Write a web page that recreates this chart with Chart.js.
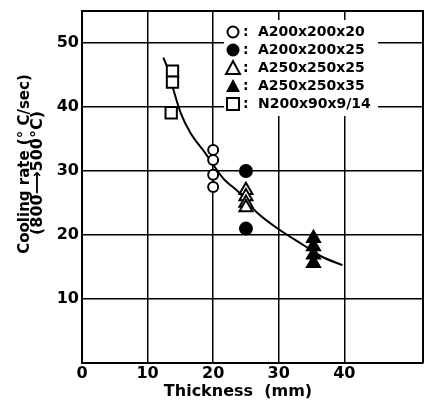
<!DOCTYPE html>
<html>
<head>
<script src="https://cdn.jsdelivr.net/npm/chart.js@4.4.1/dist/chart.umd.min.js"></script>
<style>
  body {margin: 0; background: #fff;}
  #wrap {width: 425px; height: 401px;}
</style>
</head>
<body>
<div id="wrap"><canvas id="cool" width="425" height="401"></canvas></div>
<script>

// values (thickness mm, cooling rate C/s)
var xTicks = [0, 10, 20, 30, 40];
var yTicks = [10, 20, 30, 40, 50];

var a20x = [20, 20, 20, 20];
var a20y = [33.3, 31.7, 29.4, 27.5];
var a25x = [25, 25];
var a25y = [30, 21];
var b25x = [25, 25, 25, 25];
var b25y = [27, 26, 25, 24.3];
var b35x = [35.3, 35.3, 35.3, 35.3];
var b35y = [19.5, 18.2, 16.9, 15.6];
var nx = [13.8, 13.8, 13.6];
var ny = [45.6, 43.9, 39.1];

var curveX = [12.4, 13, 14, 15, 16.5, 18.8, 21.5, 24, 26.6, 30, 33.8, 36.6, 39.7];
var curveY = [47.7, 46.2, 42.5, 39.2, 36, 32.8, 28.9, 26.6, 23.6, 20.9, 18.4, 16.6, 15.3];

var legendLabels = ['A200x200x20', 'A200x200x25', 'A250x250x25', 'A250x250x35', 'N200x90x9/14'];
var legendShapes = ['circle', 'circle', 'triangle', 'triangle', 'rect'];
var legendFilled = [false, true, false, true, false];

function pts(xs, ys) {
  return xs.map(function(x, i) { return {x: x, y: ys[i]}; });
}

function marks(xs, ys, style, filled, r) {
  return {
    type: 'scatter',
    data: pts(xs, ys),
    pointStyle: style,
    pointRadius: r,
    pointHoverRadius: r,
    borderColor: '#000',
    borderWidth: 2,
    backgroundColor: filled ? '#000' : '#fff',
    order: 1
  };
}

var F = '"DejaVu Sans", sans-serif';

// frame, titles and the boxed legend
var extras = {
  id: 'extras',
  afterDatasetsDraw: function(chart) {
    var ctx = chart.ctx, a = chart.chartArea;
    ctx.save();
    ctx.strokeStyle = '#000';
    ctx.lineWidth = 2;
    ctx.beginPath();
    ctx.moveTo(a.left, a.top); ctx.lineTo(a.right, a.top); ctx.lineTo(a.right, a.bottom);
    ctx.stroke();

    // legend
    ctx.fillStyle = '#fff';
    ctx.fillRect(224, 20, 154, 96);
    ctx.fillStyle = '#000';
    ctx.font = 'bold 14px ' + F;
    ctx.textBaseline = 'middle';
    for (var i = 0; i < legendLabels.length; i++) {
      var cy = 32 + i * 18, cx = 233;
      ctx.beginPath();
      if (legendShapes[i] == 'circle') {
        ctx.arc(cx, cy, legendFilled[i] ? 6.5 : 5.5, 0, Math.PI * 2);
      } else if (legendShapes[i] == 'triangle') {
        ctx.moveTo(cx, cy - 7); ctx.lineTo(cx + 7, cy + 6); ctx.lineTo(cx - 7, cy + 6); ctx.closePath();
      } else {
        ctx.rect(cx - 6, cy - 6, 12, 12);
      }
      if (legendFilled[i]) ctx.fill(); else ctx.stroke();
      ctx.fillText(':', 243, cy);
      ctx.fillText(legendLabels[i], 258, cy);
    }

    // axis titles
    ctx.textAlign = 'center';
    ctx.font = 'bold 16px ' + F;
    ctx.fillText('Thickness  (mm)', 238, 392);
    ctx.font = 'bold 15px ' + F;
    ctx.translate(25, 164);
    ctx.rotate(-Math.PI / 2);
    ctx.fillText('Cooling rate (\u00b0 C/sec)', 0, 0);
    ctx.font = 'bold 16px ' + F;
    ctx.fillText('(800\u27f6500\u00b0C)', -9, 13);
    ctx.restore();
  }
};

new Chart(document.getElementById('cool'), {
  type: 'scatter',
  data: {
    datasets: [
      {
        type: 'line',
        data: pts(curveX, curveY),
        borderColor: '#000',
        borderWidth: 2,
        pointRadius: 0,
        fill: false,
        cubicInterpolationMode: 'monotone',
        order: 5
      },
      marks(a20x, a20y, 'circle', false, 5),
      marks(a25x, a25y, 'circle', true, 6),
      marks(b25x, b25y, 'triangle', false, 7.5),
      marks(b35x, b35y, 'triangle', true, 7.5),
      marks(nx, ny, 'rect', false, 8)
    ]
  },
  plugins: [extras],
  options: {
    responsive: false,
    animation: false,
    layout: {autoPadding: false, padding: {top: 11, right: 2, left: 0, bottom: 0}},
    plugins: {legend: {display: false}, tooltip: {enabled: false}},
    scales: {
      x: {
        type: 'linear', min: 0, max: 52,
        afterBuildTicks: function(s) { s.ticks = xTicks.map(function(v) { return {value: v}; }); },
        afterFit: function(s) { s.height = 38; s.paddingLeft = 0; s.paddingRight = 0; },
        grid: {color: '#000', lineWidth: 1.5, drawTicks: false},
        border: {color: '#000', width: 2},
        ticks: {color: '#000', font: {family: F, size: 16, weight: 'bold'}, padding: 1, maxRotation: 0}
      },
      y: {
        type: 'linear', min: 0, max: 55,
        afterBuildTicks: function(s) { s.ticks = yTicks.map(function(v) { return {value: v}; }); },
        afterFit: function(s) { s.width = 82; s.paddingTop = 0; s.paddingBottom = 0; },
        grid: {color: '#000', lineWidth: 1.5, drawTicks: false},
        border: {color: '#000', width: 2},
        ticks: {color: '#000', font: {family: F, size: 16, weight: 'bold'}, padding: 3}
      }
    }
  }
});

</script>
</body>
</html>
